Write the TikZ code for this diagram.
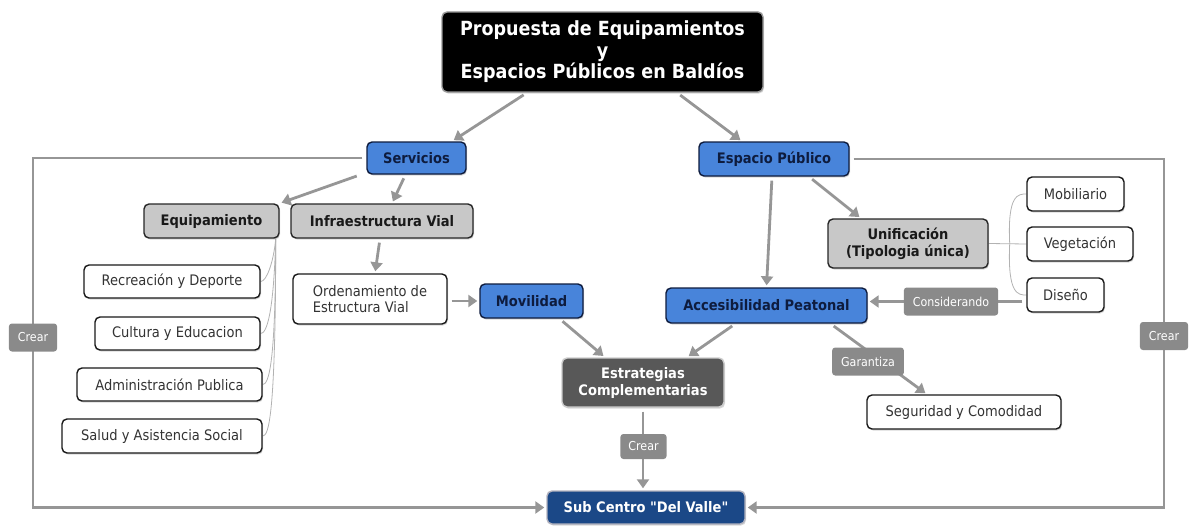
\documentclass[tikz,border=0pt]{standalone}
\usepackage{fontspec}
\setmainfont{DejaVu Sans Condensed}[Ligatures=TeXOff]
\usetikzlibrary{arrows.meta,calc,shadows,backgrounds}
\definecolor{bluebox}{RGB}{72,132,218}
\definecolor{bluetext}{RGB}{14,28,62}
\definecolor{navybox}{RGB}{27,72,135}
\definecolor{greybox}{RGB}{200,200,200}
\definecolor{darkbox}{RGB}{88,88,88}
\definecolor{linkgrey}{RGB}{150,150,150}
\definecolor{tagbox}{RGB}{138,138,138}
\tikzset{
  box/.style={rounded corners=5pt, line width=1.4pt, align=center, inner sep=0pt,
    drop shadow={shadow xshift=1pt, shadow yshift=-1.5pt, opacity=.3}},
  topic/.style={box, fill=bluebox, draw=bluetext, text=bluetext,
    font=\bfseries\fontsize{14.5}{17}\selectfont},
  group/.style={box, fill=greybox, draw=black!85, text=black!90,
    font=\bfseries\fontsize{14.5}{17}\selectfont},
  item/.style={box, fill=white, draw=black!90, text=black!80,
    font=\fontsize{14.5}{16}\selectfont},
  tag/.style={rounded corners=3pt, fill=tagbox, text=white, inner xsep=9pt,
    minimum height=28pt, font=\fontsize{12.3}{14}\selectfont},
  link/.style={draw=linkgrey, line width=2.8pt, -{Triangle[length=9pt,width=12pt]},
    shorten <=4pt, shorten >=2pt},
  brack/.style={draw=black!30, line width=.8pt},
}
\begin{document}
\begin{tikzpicture}[x=1pt,y=-1pt]
  \useasboundingbox (0,0) rectangle (1189,527);
  % top
  \node[box, fill=black, draw=black!40, text=white, minimum width=321pt, minimum height=80pt,
    font=\bfseries\fontsize{19.5}{21.5}\selectfont] (title) at (602.5,52)
    {Propuesta de Equipamientos\\y\\Espacios Públicos en Baldíos};
  \node[topic, minimum width=99pt, minimum height=32pt] (serv) at (416.5,158) {Servicios};
  \node[topic, minimum width=150pt, minimum height=34pt] (esp) at (774,159) {Espacio Público};
  % servicios side
  \node[group, minimum width=135pt, minimum height=34pt] (equip) at (211.5,221) {Equipamiento};
  \node[group, minimum width=182pt, minimum height=34pt] (infra) at (382,221) {Infraestructura Vial};
  \node[item, minimum width=176pt, minimum height=33pt] (recre) at (172,281.5) {Recreación y Deporte};
  \node[item, minimum width=165pt, minimum height=33pt] (cult) at (177.5,333.5) {Cultura y Educacion};
  \node[item, minimum width=185pt, minimum height=33pt] (admin) at (169.5,384.5) {Administración Publica};
  \node[item, minimum width=200pt, minimum height=34pt] (salud) at (162,436) {Salud y Asistencia Social};
  \node[item, align=left, minimum width=154pt, minimum height=50pt] (orden) at (370,299)
    {Ordenamiento de\\Estructura Vial};
  \node[topic, minimum width=103pt, minimum height=34pt] (movil) at (531.5,301) {Movilidad};
  % espacio publico side
  \node[topic, minimum width=201pt, minimum height=35pt] (acces) at (766.5,305.5) {Accesibilidad Peatonal};
  \node[group, minimum width=160pt, minimum height=49pt] (unif) at (908,243.5)
    {Unificación\\(Tipologia única)};
  \node[item, minimum width=97pt, minimum height=34pt] (mobil) at (1075.5,194) {Mobiliario};
  \node[item, minimum width=106pt, minimum height=34pt] (veget) at (1080,244) {Vegetación};
  \node[item, minimum width=77pt, minimum height=34pt] (diseno) at (1065.5,295) {Diseño};
  \node[item, minimum width=194pt, minimum height=34pt] (segur) at (964,412) {Seguridad y Comodidad};
  % bottom
  \node[box, fill=darkbox, draw=black!20, text=white, minimum width=162pt, minimum height=49pt,
    font=\bfseries\fontsize{14.5}{17}\selectfont] (estrat) at (643,382.5)
    {Estrategias\\Complementarias};
  \node[box, fill=navybox, draw=blue!15!black!30, text=white, minimum width=198pt, minimum height=33pt,
    font=\bfseries\fontsize{14.5}{17}\selectfont] (subc) at (646,507.5) {Sub Centro "Del Valle"};
  % labels on links
  \node[tag] (crearL) at (33,337.5) {Crear};
  \node[tag] (crearR) at (1164,336) {Crear};
  \node[tag, inner xsep=8pt, minimum height=25pt] (crearM) at (643.5,446.5) {Crear};
  \node[tag] (consid) at (951,301.5) {Considerando};
  \node[tag] (garant) at (868,361.5) {Garantiza};

  \begin{scope}[on background layer]
    \draw[link] ($(title.south)+(-75.5,0)$) -- ($(serv.north)+(35.5,0)$);
    \draw[link] ($(title.south)+(74.5,0)$) -- ($(esp.north)+(-32,0)$);
    \draw[link] ($(serv.south)+(-56,0)$) -- (equip.north east);
    \draw[link] ($(serv.south)+(-11,0)$) -- ($(infra.north)+(10,0)$);
    \draw[link] ($(infra.south)+(-2,0)$) -- ($(orden.north)+(5,0)$);
    \draw[link] (orden.east |- movil) -- (movil.west);
    \draw[link] ($(esp.south)+(-2,0)$) -- (acces.north);
    \draw[link] ($(esp.south)+(35,0)$) -- ($(unif.north)+(-47,0)$);
    \draw[link] (consid -| diseno.west) -- (consid -| acces.east);
    \draw[link] ($(movil.south)+(28,0)$) -- ($(estrat.north)+(-38,0)$);
    \draw[link] ($(acces.south)+(-31,0)$) -- ($(estrat.north)+(44,0)$);
    \draw[link] ($(acces.south)+(64,0)$) -- ($(segur.north)+(-37,0)$);
    \draw[link] (estrat.south) -- (estrat.south |- subc.north);
    \draw[link] (serv.west) -- (serv.west -| crearL) |- (subc.west);
    \draw[link] (esp.east) -- (esp.east -| crearR) |- (subc.east);
    % thin brackets
    \foreach \c in {recre,cult,admin,salud}
      \draw[brack] ($(equip.south east)+(-4,0)$) .. controls ($(\c.east)+(13,-20)$)
        and ($(\c.east)+(6,0)$) .. (\c.east);
    \draw[brack] (unif.east) -- (veget.west);
    \foreach \c in {mobil,diseno}
      \draw[brack] ($(unif.east)+(21,0)$) .. controls ($(\c.west)+(-19,0)$)
        and ($(\c.west)+(-8,0)$) .. (\c.west);
  \end{scope}
\end{tikzpicture}
\end{document}
